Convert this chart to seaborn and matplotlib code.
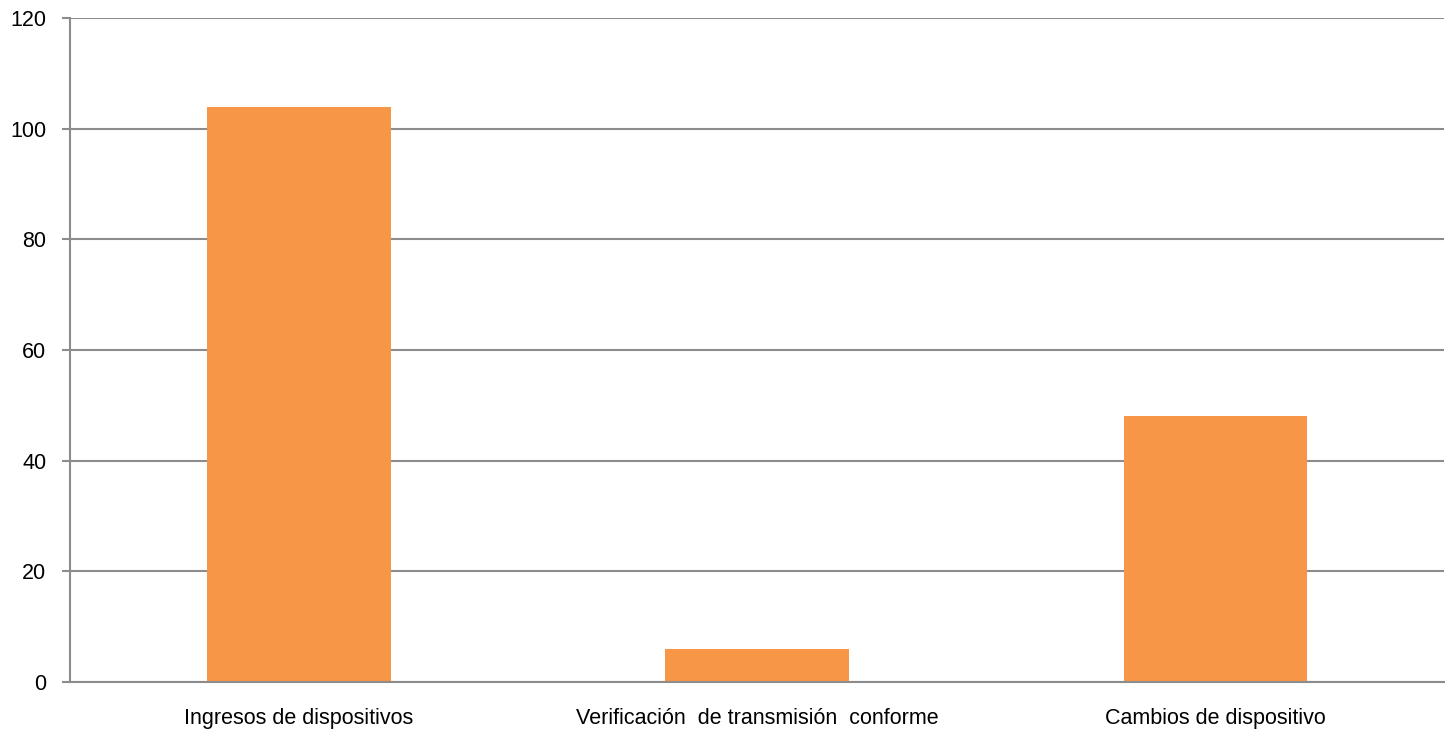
import matplotlib
matplotlib.use('Agg')
import matplotlib.pyplot as plt
import seaborn as sns
import pandas as pd
import numpy as np

categories = ['Ingresos de dispositivos',
              'Verificación  de transmisión  conforme',
              'Cambios de dispositivo']
values = [104, 6, 48]
y_ticks = [0, 20, 40, 60, 80, 100, 120]

sns.set_style('white')
plt.rcParams['font.family'] = ['Liberation Sans', 'DejaVu Sans']

df = pd.DataFrame({'cat': categories, 'val': values})

fig, ax = plt.subplots(figsize=(14.45, 7.35), dpi=100)
fig.subplots_adjust(left=0.0484, right=0.9995, bottom=0.0721, top=0.9755)

sns.barplot(data=df, x='cat', y='val', color='#F79646', saturation=1,
            width=0.4, ax=ax, zorder=2, linewidth=0)

grid_c = '#8C8C8C'
ax.set_ylim(0, 120)
ax.set_xlim(-0.5, len(categories) - 0.5)
ax.set_yticks(y_ticks)
ax.yaxis.grid(True, color=grid_c, lw=1.5, zorder=0)
ax.set_axisbelow(True)
for side in ['top', 'right']:
    ax.spines[side].set_visible(False)
for side in ['left', 'bottom']:
    ax.spines[side].set_color(grid_c)
    ax.spines[side].set_linewidth(1.5)
    ax.spines[side].set_zorder(3)

# category separators as minor ticks
ax.set_xticks(np.arange(-0.5, len(categories), 1.0), minor=True)
ax.tick_params(axis='x', which='major', length=0, pad=19, labelsize=15.5, labelcolor='black')
ax.tick_params(axis='x', which='minor', length=6, width=1.5, color=grid_c, direction='out')
ax.tick_params(axis='y', length=6, width=1.5, color=grid_c, labelsize=15.5, pad=11,
               left=True, labelcolor='black')
ax.set_xlabel('')
ax.set_ylabel('')

fig.savefig('out.png', dpi=100)
